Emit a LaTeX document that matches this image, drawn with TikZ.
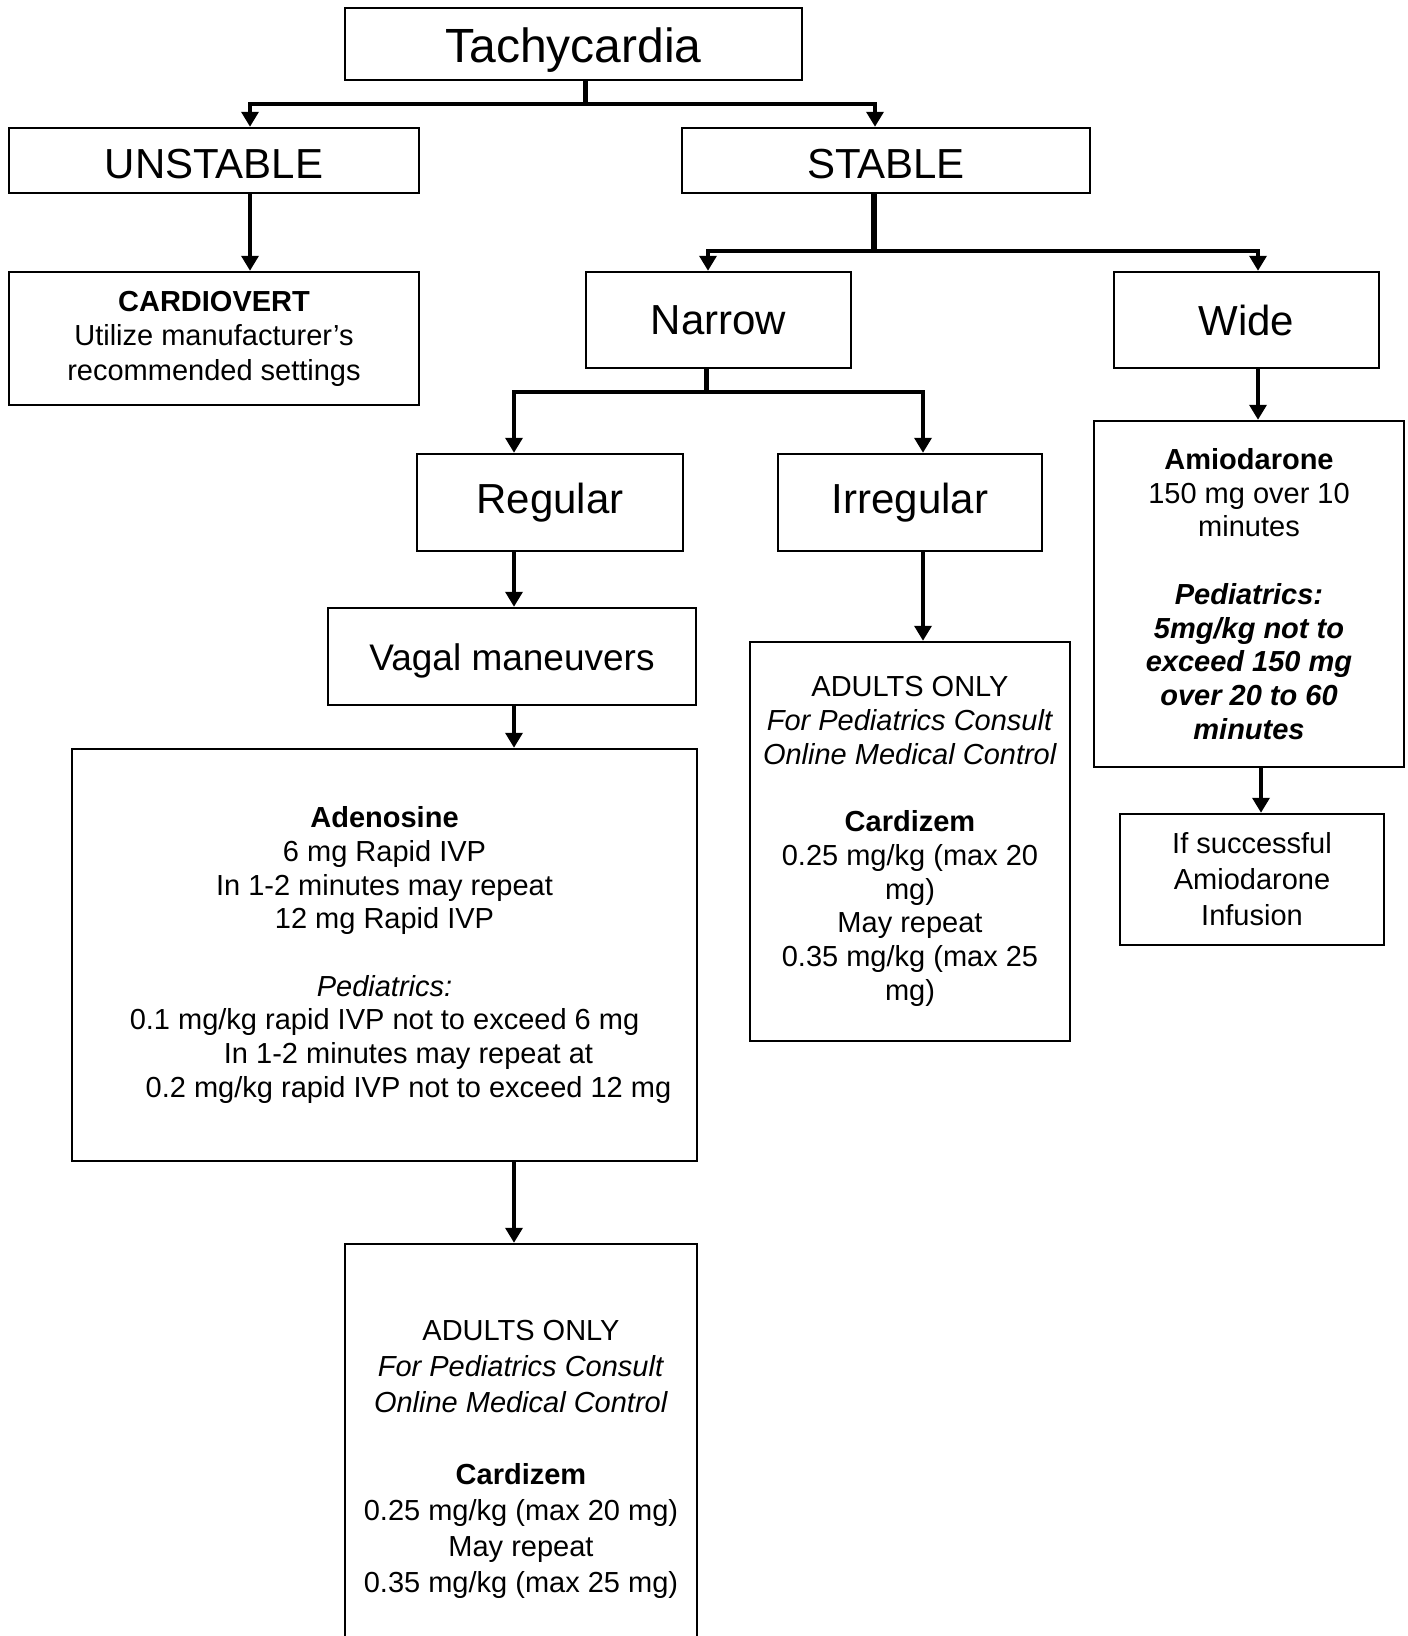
\documentclass[tikz,border=0pt]{standalone}
\usepackage{fontspec}
\setmainfont{Liberation Sans}
\usetikzlibrary{arrows.meta}
\begin{document}
\begin{tikzpicture}[
        x=1pt, y=-1pt,
        box/.style={rectangle, draw=black, line width=2.5pt, align=center, inner sep=0pt},
        big/.style={font=\fontsize{42}{48}\selectfont},
        txt/.style={font=\fontsize{29}{33.7}\selectfont},
        wtxt/.style={font=\fontsize{29}{36}\selectfont},
        conn/.style={line width=3.5pt, line join=miter},
        stem/.style={line width=5pt},
        arr/.style={line width=3.5pt, line join=miter, -{Triangle[width=17pt,length=15pt]}}
    ]
    \useasboundingbox (0,0) rectangle (1408,1636);
    \clip (0,0) rectangle (1408,1636);

    \node[box, minimum width=457pt, minimum height=72pt, font=\fontsize{48}{54}\selectfont] (tachy) at (573.5,44) {\raisebox{-6pt}[\height][\depth]{Tachycardia}};
    \node[box, big, minimum width=410pt, minimum height=65pt] (unstable) at (214,160.5) {\raisebox{-4pt}[\height][\depth]{UNSTABLE}};
    \node[box, big, minimum width=408pt, minimum height=65pt] (stable) at (886,160.5) {\raisebox{-4pt}[\height][\depth]{STABLE}};
    \node[box, txt, font=\fontsize{29}{34.5}\selectfont, minimum width=410pt, minimum height=133pt] (cardiovert) at (214,338.5) {
        \textbf{CARDIOVERT}\\
        Utilize manufacturer’s\\
        recommended settings
    };
    \node[box, big, minimum width=265pt, minimum height=96pt] (narrow) at (718.5,320) {Narrow};
    \node[box, big, minimum width=265pt, minimum height=96pt] (wide) at (1246.5,320) {Wide};
    \node[box, big, minimum width=266pt, minimum height=97pt] (regular) at (550,502.5) {Regular};
    \node[box, big, minimum width=264pt, minimum height=97pt] (irregular) at (910,502.5) {Irregular};
    \node[box, txt, minimum width=310pt, minimum height=346pt] (amiodarone) at (1249,594) {
        \textbf{Amiodarone}\\
        150 mg over 10\\
        minutes\\
        ~\\
        \textbf{\textit{Pediatrics:}}\\
        \textbf{\textit{5mg/kg not to}}\\
        \textbf{\textit{exceed 150 mg}}\\
        \textbf{\textit{over 20 to 60}}\\
        \textbf{\textit{minutes}}
    };
    \node[box, wtxt, minimum width=264pt, minimum height=131pt] (infusion) at (1252,879.5) {
        If successful\\
        Amiodarone\\
        Infusion
    };
    \node[box, font=\fontsize{37}{42}\selectfont, minimum width=368pt, minimum height=97pt] (vagal) at (512,656.5) {\raisebox{-4pt}[\height][\depth]{Vagal maneuvers}};
    \node[box, txt, minimum width=625pt, minimum height=412pt] (adenosine) at (384.5,955) {
        \textbf{Adenosine}\\
        6 mg Rapid IVP\\
        In 1-2 minutes may repeat\\
        12 mg Rapid IVP\\
        ~\\
        \textit{Pediatrics:}\\
        0.1 mg/kg rapid IVP not to exceed 6 mg\\
        \hspace*{48pt}In 1-2 minutes may repeat at\\
        \hspace*{48pt}0.2 mg/kg rapid IVP not to exceed 12 mg
    };
    \node[box, txt, minimum width=320pt, minimum height=399pt] (cardizemA) at (910,841.5) {
        ADULTS ONLY\\
        \textit{For Pediatrics Consult}\\
        \textit{Online Medical Control}\\
        ~\\
        \textbf{Cardizem}\\
        0.25 mg/kg (max 20\\
        mg)\\
        May repeat\\
        0.35 mg/kg (max 25\\
        mg)
    };
    \node[box, wtxt, minimum width=352pt, minimum height=430pt] (cardizemB) at (521,1459) {
        ADULTS ONLY\\
        \textit{For Pediatrics Consult}\\
        \textit{Online Medical Control}\\
        ~\\
        \textbf{Cardizem}\\
        0.25 mg/kg (max 20 mg)\\
        May repeat\\
        0.35 mg/kg (max 25 mg)
    };

    \coordinate (jtop) at (585,104);
    \coordinate (tU) at (250,104);
    \coordinate (tS) at (875,104);
    \draw[stem] (tachy.south -| jtop) -- (jtop);
    \draw[arr] (jtop) -- (tU) -- (unstable.north -| tU);
    \draw[arr] (jtop) -- (tS) -- (stable.north -| tS);
    \draw[arr] (unstable.south -| tU) -- (cardiovert.north -| tU);

    \coordinate (jstable) at (874,251);
    \coordinate (tN) at (708,251);
    \coordinate (tW) at (1258,251);
    \draw[stem, line width=6pt] (stable.south -| jstable) -- (jstable);
    \draw[arr] (jstable) -- (tN) -- (narrow.north -| tN);
    \draw[arr] (jstable) -- (tW) -- (wide.north -| tW);
    \draw[arr] (wide.south -| tW) -- (amiodarone.north -| tW);
    \coordinate (tA) at (1261,0);
    \draw[arr] (amiodarone.south -| tA) -- (infusion.north -| tA);

    \coordinate (jnarrow) at (706,392);
    \coordinate (tR) at (514,392);
    \coordinate (tI) at (923,392);
    \draw[stem] (narrow.south -| jnarrow) -- (jnarrow);
    \draw[arr] (jnarrow) -- (tR) -- (regular.north -| tR);
    \draw[arr] (jnarrow) -- (tI) -- (irregular.north -| tI);
    \draw[arr] (irregular.south -| tI) -- (cardizemA.north -| tI);
    \draw[arr] (regular.south -| tR) -- (vagal.north -| tR);
    \draw[arr] (vagal.south -| tR) -- (adenosine.north -| tR);
    \draw[arr] (adenosine.south -| tR) -- (cardizemB.north -| tR);
\end{tikzpicture}
\end{document}
